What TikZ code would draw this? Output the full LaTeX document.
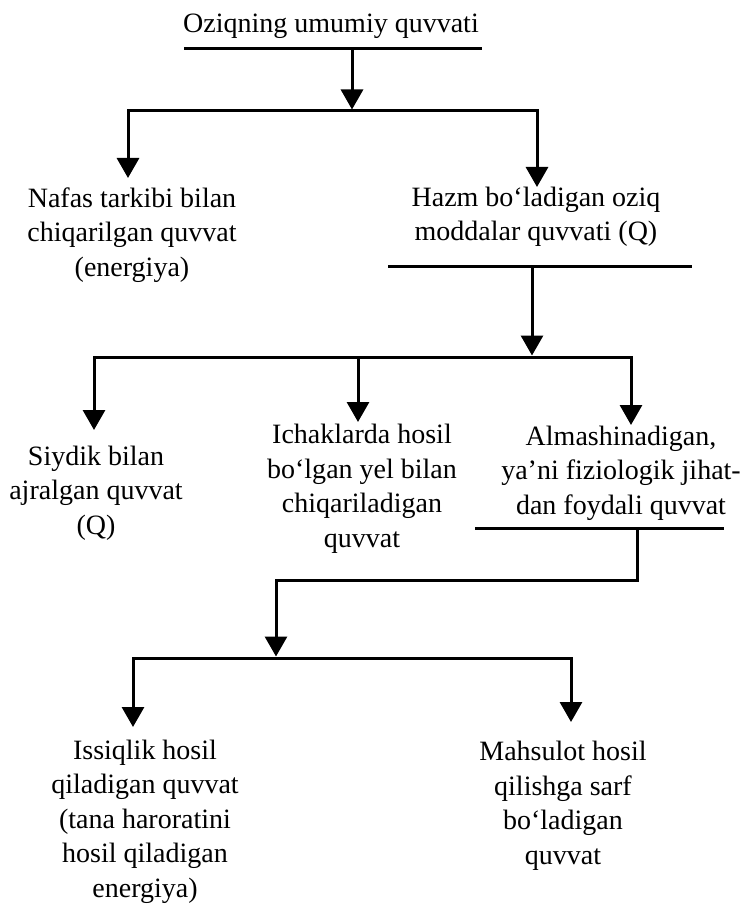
\documentclass[tikz,border=0pt]{standalone}
\usepackage{fontspec}
\setmainfont{Liberation Serif}
\usetikzlibrary{arrows.meta}

\begin{document}
\begin{tikzpicture}[x=1pt,y=-1pt,
  % multi-line labels: the base anchor sits on the last line's baseline
  label text/.style={font=\fontsize{28}{34.5}\selectfont, align=center,
    anchor=base, inner sep=0pt},
  bar/.style={line width=3pt, line cap=rect},
  flow/.style={line width=3pt, -{Triangle[width=22pt,length=20pt]}},
  elbow/.style={line width=3pt, line join=miter,
    -{Triangle[width=22pt,length=20pt]}}]
  \useasboundingbox (0,0) rectangle (749,904);

  % texts
  \node[label text] (total)  at (331,33)    {Oziqning umumiy quvvati};
  \node[label text] (breath) at (132,276)   {Nafas tarkibi bilan\\chiqarilgan quvvat\\(energiya)};
  \node[label text] (digest) at (536,240.5) {Hazm bo‘ladigan oziq\\moddalar quvvati (Q)};
  \node[label text] (urine)  at (96,534)    {Siydik bilan\\ajralgan quvvat\\(Q)};
  \node[label text] (gas)    at (362,547)   {Ichaklarda hosil\\bo‘lgan yel bilan\\chiqariladigan\\quvvat};
  \node[label text] (useful) at (621,514)   {Almashinadigan,\\ya’ni fiziologik jihat-\\dan foydali quvvat};
  \node[label text] (heat)   at (145,897)   {Issiqlik hosil\\qiladigan quvvat\\(tana haroratini\\hosil qiladigan\\energiya)};
  \node[label text] (prod)   at (563,864)   {Mahsulot hosil\\qilishga sarf\\bo‘ladigan\\quvvat};

  % level 1
  \coordinate (aL) at (185,49);  \coordinate (aR) at (480,49);
  \coordinate (aS) at (352,49);  \coordinate (aT) at (352,109.5);
  \coordinate (bL) at (128,111); \coordinate (bR) at (537,111);
  \coordinate (bLt) at (128,178); \coordinate (bRt) at (537,187);
  \draw[bar] (aL) -- (aR);
  \draw[flow] (aS) -- (aT);
  \draw[bar] (bL) -- (bR);
  \draw[flow] (bL) -- (bLt);
  \draw[flow] (bR) -- (bRt);

  % level 2
  \coordinate (cL) at (389,266); \coordinate (cR) at (690,266);
  \coordinate (cS) at (532,266); \coordinate (cT) at (532,355.5);
  \coordinate (dL) at (94,357);  \coordinate (dM) at (358,357); \coordinate (dR) at (631,357);
  \coordinate (dLt) at (94,430); \coordinate (dMt) at (358,422); \coordinate (dRt) at (631,425);
  \draw[bar] (cL) -- (cR);
  \draw[flow] (cS) -- (cT);
  \draw[bar] (dL) -- (dR);
  \draw[flow] (dL) -- (dLt);
  \draw[flow] (dM) -- (dMt);
  \draw[flow] (dR) -- (dRt);

  % level 3
  \coordinate (eL) at (476,528); \coordinate (eR) at (722,528);
  \coordinate (eS) at (637,528); \coordinate (eK) at (276,580);
  \coordinate (eT) at (276,656.5);
  \coordinate (fL) at (133,658); \coordinate (fR) at (571,658);
  \coordinate (fLt) at (133,727); \coordinate (fRt) at (571,722);
  \draw[bar] (eL) -- (eR);
  \draw[elbow] (eS) |- (eK) -- (eT);
  \draw[bar] (fL) -- (fR);
  \draw[flow] (fL) -- (fLt);
  \draw[flow] (fR) -- (fRt);
\end{tikzpicture}
\end{document}
